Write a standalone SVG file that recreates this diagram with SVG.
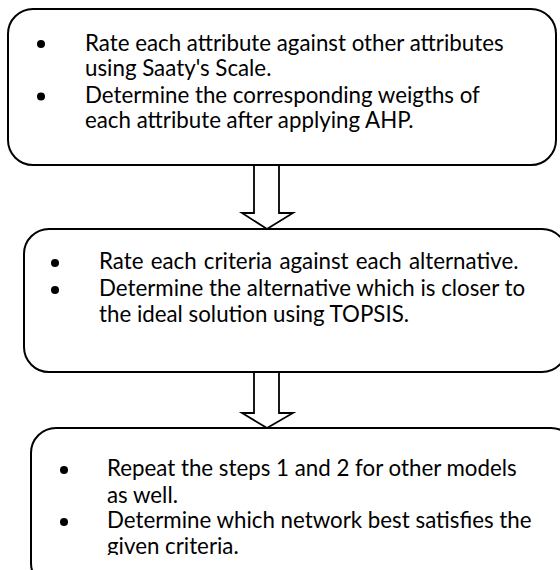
<svg xmlns="http://www.w3.org/2000/svg" width="560" height="570" viewBox="0 0 560 570">
  <style>
    .box { fill: #ffffff; stroke: #000000; stroke-width: 2; }
    .arrow { fill: #ffffff; stroke: #000000; stroke-width: 1.8; stroke-linejoin: miter; }
    .txt { font-family: Lato, "Liberation Sans", sans-serif; font-size: 22.3px; fill: #000000; }
    .dot { fill: #000000; }
  </style>
  <defs>
    <clipPath id="clip-step3">
      <rect x="0" y="428" width="560" height="127"/>
    </clipPath>
  </defs>
  <rect width="560" height="570" fill="#ffffff"/>

  <!-- connectors: hollow block arrows between the steps -->
  <g id="connectors">
    <path class="arrow" d="M254,165 V213 H242 L267,229 L293,213 H279 V165 Z"/>
    <path class="arrow" d="M254,372 V413 H242 L267,428 L293,413 H279 V372 Z"/>
  </g>

  <!-- step 1: AHP weighting -->
  <g id="step1">
    <rect class="box" x="8" y="9" width="548" height="156" rx="25" ry="25"/>
    <circle class="dot" cx="41" cy="44" r="4"/>
    <text class="txt" x="85" y="50.5">Rate each attribute against other attributes</text>
    <text class="txt" x="85" y="76">using Saaty's Scale.</text>
    <circle class="dot" cx="41" cy="96.5" r="4"/>
    <text class="txt" x="85" y="102.5">Determine the corresponding weigths of</text>
    <text class="txt" x="85" y="128">each attribute after applying AHP.</text>
  </g>

  <!-- step 2: TOPSIS ranking -->
  <g id="step2">
    <rect class="box" x="24" y="229" width="543" height="143" rx="25" ry="25"/>
    <circle class="dot" cx="55" cy="263" r="4"/>
    <text class="txt" x="99" y="269" word-spacing="1.5">Rate each criteria against each alternative.</text>
    <circle class="dot" cx="55" cy="290" r="4"/>
    <text class="txt" x="99" y="296">Determine the alternative which is closer to</text>
    <text class="txt" x="99" y="322">the ideal solution using TOPSIS.</text>
  </g>

  <!-- step 3: repeat and compare networks -->
  <g id="step3">
    <rect class="box" x="31" y="428" width="545" height="160" rx="25" ry="25"/>
    <g clip-path="url(#clip-step3)">
      <circle class="dot" cx="64" cy="470" r="4"/>
      <text class="txt" x="107" y="476">Repeat the steps 1 and 2 for other models</text>
      <text class="txt" x="107" y="502.5">as well.</text>
      <circle class="dot" cx="64" cy="522" r="4"/>
      <text class="txt" x="107" y="528">Determine which network best satisfies the</text>
      <text class="txt" x="107" y="553.5">given criteria.</text>
    </g>
  </g>
</svg>
